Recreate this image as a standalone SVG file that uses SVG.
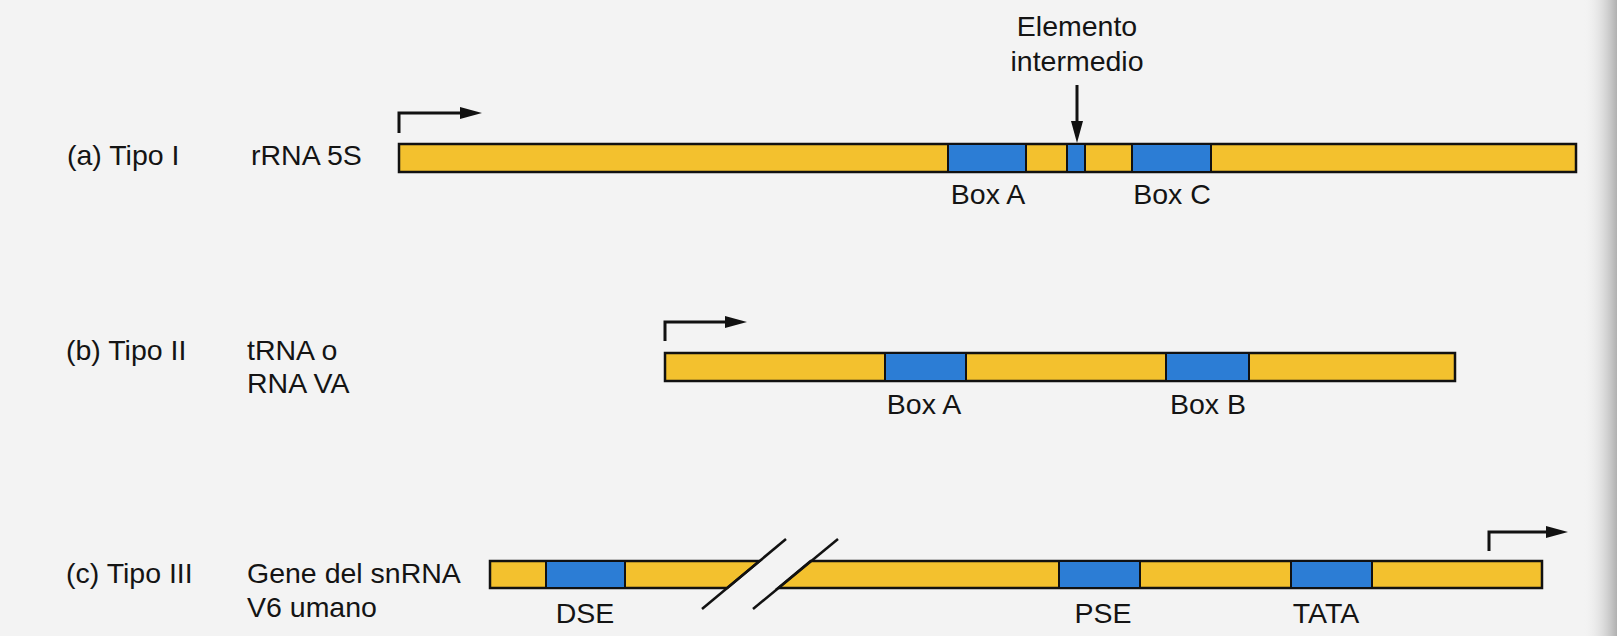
<svg xmlns="http://www.w3.org/2000/svg" width="1617" height="636" viewBox="0 0 1617 636">
  <defs>
    <style>
      .t { font-family: "Liberation Sans", Arial, Helvetica, sans-serif; font-size: 28.5px; fill: #141414; }
      .m { text-anchor: middle; }
      .bar { fill: #F3C12E; stroke: #111; stroke-width: 2.5; }
      .box { fill: #2C7DD5; stroke: #111; stroke-width: 2; }
      .arr { fill: none; stroke: #111; stroke-width: 3; }
      .slash { stroke: #111; stroke-width: 2.5; }
    </style>
    <marker id="ah" markerUnits="userSpaceOnUse" markerWidth="22" markerHeight="12" refX="10" refY="6" orient="auto">
      <path d="M0,0 L22,6 L0,12 z" fill="#111"/>
    </marker>
    <linearGradient id="edge" x1="0" y1="0" x2="1" y2="0">
      <stop offset="0" stop-color="#f3f3f3" stop-opacity="0"/>
      <stop offset="1" stop-color="#b0b0b0"/>
    </linearGradient>
  </defs>
  <rect x="0" y="0" width="1617" height="636" fill="#f3f3f3"/>
  <rect x="1583" y="0" width="34" height="636" fill="url(#edge)"/>

  <g id="row-a">
    <text class="t" x="67" y="165">(a) Tipo I</text>
    <text class="t" x="251" y="165">rRNA 5S</text>
    <rect class="bar" x="399" y="144" width="1177" height="28"/>
    <rect class="box" x="948" y="144" width="78" height="28"/>
    <rect class="box" x="1067" y="144" width="18" height="28"/>
    <rect class="box" x="1132" y="144" width="79" height="28"/>
    <text class="t m" x="1077" y="36">Elemento</text>
    <text class="t m" x="1077" y="71">intermedio</text>
    <text class="t m" x="988" y="204">Box A</text>
    <text class="t m" x="1172" y="204">Box C</text>
  </g>

  <g id="row-b">
    <text class="t" x="66" y="360">(b) Tipo II</text>
    <text class="t" x="247" y="360">tRNA o</text>
    <text class="t" x="247" y="393">RNA VA</text>
    <rect class="bar" x="665" y="353" width="790" height="28"/>
    <rect class="box" x="885" y="353" width="81" height="28"/>
    <rect class="box" x="1166" y="353" width="83" height="28"/>
    <text class="t m" x="924" y="414">Box A</text>
    <text class="t m" x="1208" y="414">Box B</text>
  </g>

  <g id="row-c">
    <text class="t" x="66" y="583">(c) Tipo III</text>
    <text class="t" x="247" y="583">Gene del snRNA</text>
    <text class="t" x="247" y="617">V6 umano</text>
    <polygon class="bar" points="490,561 759.6,561 727.2,588 490,588"/>
    <rect class="box" x="546" y="561" width="79" height="27"/>
    <polygon class="bar" points="810.6,561 1542,561 1542,588 778.2,588"/>
    <rect class="box" x="1059" y="561" width="81" height="27"/>
    <rect class="box" x="1291" y="561" width="81" height="27"/>
    <line class="slash" x1="702" y1="609" x2="786" y2="539"/>
    <line class="slash" x1="753" y1="609" x2="838" y2="539"/>
    <text class="t m" x="585" y="623">DSE</text>
    <text class="t m" x="1103" y="623">PSE</text>
    <text class="t m" x="1326" y="623">TATA</text>
  </g>

  <g id="connectors">
    <path class="arr" d="M399,133 V113 H470" marker-end="url(#ah)"/>
    <path class="arr" d="M665,341 V322 H735" marker-end="url(#ah)"/>
    <path class="arr" d="M1489,551 V532 H1556" marker-end="url(#ah)"/>
    <path class="arr" d="M1077,85 V131" marker-end="url(#ah)"/>
  </g>
</svg>
